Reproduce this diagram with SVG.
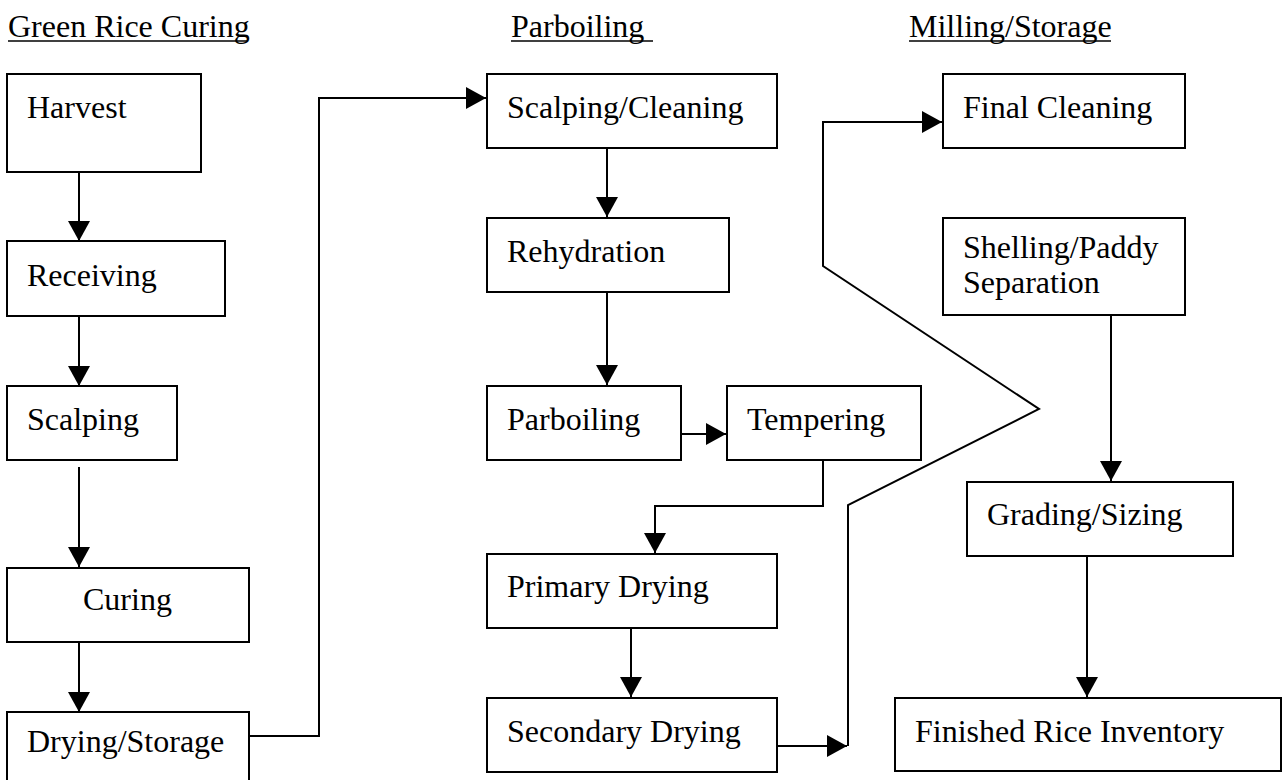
<svg xmlns="http://www.w3.org/2000/svg" width="1288" height="780" viewBox="0 0 1288 780">
<style>
text{font-family:"Liberation Serif","Times New Roman",serif;font-size:32px;fill:#000}
.box{fill:#fff;stroke:#000;stroke-width:2}
.c{fill:none;stroke:#000;stroke-width:2}
.u{stroke:#000;stroke-width:1.5}
</style>
<defs>
<marker id="ah" markerUnits="userSpaceOnUse" markerWidth="20" markerHeight="22" refX="20" refY="11" orient="auto">
<path d="M0,0 L20,11 L0,22 z" fill="#000"/>
</marker>
</defs>
<rect width="1288" height="780" fill="#fff"/>
<g id="titles">
<text x="8" y="37">Green Rice Curing</text>
<line class="u" x1="8" y1="41" x2="247" y2="41"/>
<text x="511" y="37">Parboiling</text>
<line class="u" x1="511" y1="41" x2="653" y2="41"/>
<text x="909" y="37">Milling/Storage</text>
<line class="u" x1="909" y1="41" x2="1111" y2="41"/>
</g>
<g id="connectors">
<line class="c" x1="79" y1="172" x2="79" y2="241" marker-end="url(#ah)"/>
<line class="c" x1="79" y1="316" x2="79" y2="386" marker-end="url(#ah)"/>
<line class="c" x1="79" y1="467" x2="79" y2="567" marker-end="url(#ah)"/>
<line class="c" x1="79" y1="640" x2="79" y2="712" marker-end="url(#ah)"/>
<polyline class="c" points="246,736 319,736 319,98 486,98" marker-end="url(#ah)"/>
<line class="c" x1="607" y1="146" x2="607" y2="217" marker-end="url(#ah)"/>
<line class="c" x1="607" y1="290" x2="607" y2="385" marker-end="url(#ah)"/>
<line class="c" x1="678" y1="434" x2="726" y2="434" marker-end="url(#ah)"/>
<polyline class="c" points="823,457 823,506 655,506 655,553" marker-end="url(#ah)"/>
<line class="c" x1="631" y1="625" x2="631" y2="697" marker-end="url(#ah)"/>
<line class="c" x1="774" y1="746" x2="847" y2="746" marker-end="url(#ah)"/>
<polyline class="c" points="848,746 848,505 1039,409 823,266 823,122 942,122" marker-end="url(#ah)"/>
<line class="c" x1="1111" y1="313" x2="1111" y2="481" marker-end="url(#ah)"/>
<line class="c" x1="1087" y1="553" x2="1087" y2="697" marker-end="url(#ah)"/>
</g>
<g id="harvest"><rect class="box" x="7" y="74" width="194" height="98"/><text x="27" y="118">Harvest</text></g>
<g id="receiving"><rect class="box" x="7" y="241" width="218" height="75"/><text x="27" y="286">Receiving</text></g>
<g id="scalping"><rect class="box" x="7" y="386" width="170" height="74"/><text x="27" y="430">Scalping</text></g>
<g id="curing"><rect class="box" x="7" y="568" width="242" height="74"/><text x="83" y="610">Curing</text></g>
<g id="drying-storage"><rect class="box" x="7" y="712" width="242" height="74"/><text x="27" y="752">Drying/Storage</text></g>
<g id="scalping-cleaning"><rect class="box" x="487" y="74" width="290" height="74"/><text x="507" y="118">Scalping/Cleaning</text></g>
<g id="rehydration"><rect class="box" x="487" y="218" width="242" height="74"/><text x="507" y="262">Rehydration</text></g>
<g id="parboiling"><rect class="box" x="487" y="386" width="194" height="74"/><text x="507" y="430">Parboiling</text></g>
<g id="tempering"><rect class="box" x="727" y="386" width="194" height="74"/><text x="747" y="430">Tempering</text></g>
<g id="primary-drying"><rect class="box" x="487" y="554" width="290" height="74"/><text x="507" y="597">Primary Drying</text></g>
<g id="secondary-drying"><rect class="box" x="487" y="698" width="290" height="74"/><text x="507" y="742">Secondary Drying</text></g>
<g id="final-cleaning"><rect class="box" x="943" y="74" width="242" height="74"/><text x="963" y="118">Final Cleaning</text></g>
<g id="shelling"><rect class="box" x="943" y="218" width="242" height="97"/><text x="963" y="258">Shelling/Paddy</text><text x="963" y="293">Separation</text></g>
<g id="grading-sizing"><rect class="box" x="967" y="482" width="266" height="74"/><text x="987" y="525">Grading/Sizing</text></g>
<g id="finished-rice"><rect class="box" x="895" y="698" width="386" height="73"/><text x="915" y="742">Finished Rice Inventory</text></g>
</svg>
